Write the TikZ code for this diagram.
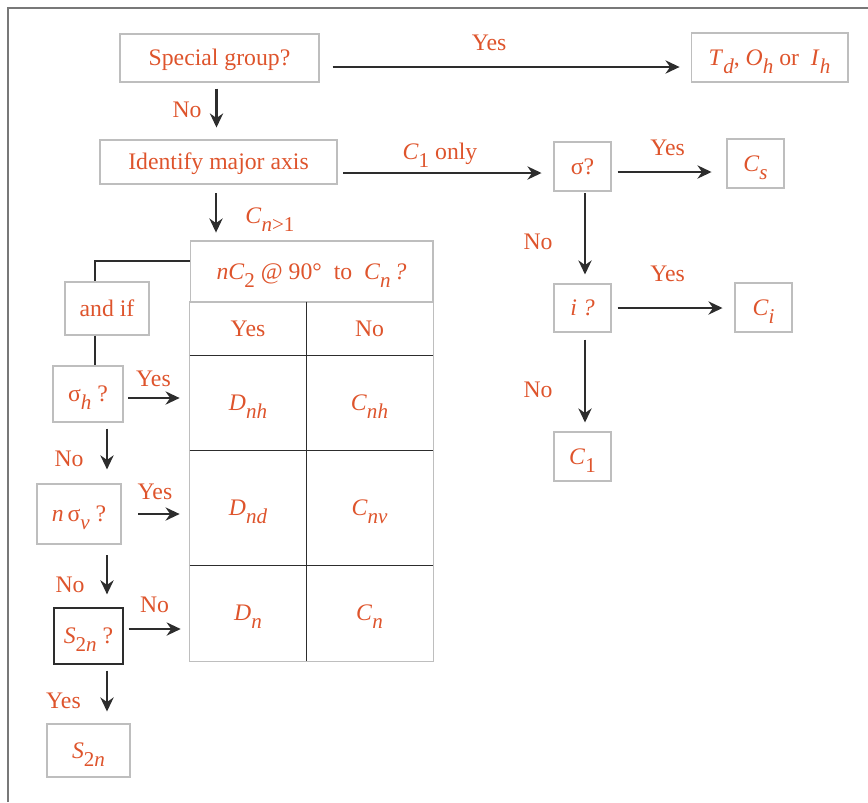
\documentclass[tikz,border=0pt]{standalone}
\usepackage{fontspec}
\setmainfont{Liberation Serif}
\usetikzlibrary{arrows.meta, positioning, calc}
\definecolor{lblred}{RGB}{222, 84, 44}
\definecolor{boxgray}{RGB}{190, 190, 190}
\definecolor{arrgray}{RGB}{45, 45, 45}
\definecolor{framegray}{RGB}{120, 120, 120}
\newcommand{\sub}[1]{\raisebox{-4.5pt}{\fontsize{12}{12}\selectfont #1}}
\newcommand{\grp}[2]{\textit{#1}\sub{\textit{#2}}}

\begin{document}
\begin{tikzpicture}[x=0.02cm, y=-0.02cm,
  txt/.style={text=lblred, font=\fontsize{13.5}{16}\selectfont, inner sep=0pt, text height=8.9pt, text depth=0pt},
  box/.style={txt, draw=boxgray, line width=0.6pt},
  cell/.style={txt, minimum width=#1},
  arr/.style={draw=arrgray, line width=1.6pt, -{Stealth[length=8pt, width=7.5pt]}, shorten <=3.4pt, shorten >=6.8pt},
  link/.style={draw=arrgray, line width=0.7pt}]
  \useasboundingbox (0,0) rectangle (868,802);

  % Frame
  \draw[framegray, line width=0.8pt] (8,802) -- (8,8) -- (868,8);

  % Top row
  \node[box, minimum width=3.98cm, minimum height=0.96cm] (sg) at (219.5,58) {Special group?};
  \node[box, minimum width=3.14cm, minimum height=0.98cm] (spec) at (769.5,57.5) {\grp{T}{d}, \grp{O}{h} or\ \ \grp{I}{h}};
  \node[box, minimum width=4.74cm, minimum height=0.88cm] (axis) at (218.5,162) {Identify major axis};

  % C1 only branch
  \node[box, minimum width=1.14cm, minimum height=0.98cm] (sig) at (582.5,166.5) {σ?};
  \node[box, minimum width=1.14cm, minimum height=0.98cm] (cs) at (755.5,163.5) {\grp{C}{s}};
  \node[box, minimum width=1.14cm, minimum height=0.96cm] (inv) at (582.5,308) {\textit{i ?}};
  \node[box, minimum width=1.14cm, minimum height=0.98cm] (ci) at (763.5,307.5) {\grp{C}{i}};
  \node[box, minimum width=1.14cm, minimum height=0.98cm] (cone) at (582.5,456.5) {\textit{C}\sub{1}};

  % Table
  \node[box, minimum width=4.86cm, minimum height=1.22cm] (ask) at (311.5,271.5) {\textit{n}\textit{C}\sub{2} @ 90°\ \ to\ \ \grp{C}{n}\,\textit{?}};
  \node[cell=2.32cm, minimum height=1.06cm] (hy) at (248,328.5) {Yes};
  \node[cell=2.54cm, minimum height=1.06cm] (hn) at (369.5,328.5) {No};
  \node[cell=2.32cm, minimum height=1.9cm] (dnh) at (248,402.5) {\grp{D}{nh}};
  \node[cell=2.54cm, minimum height=1.9cm] (cnh) at (369.5,402.5) {\grp{C}{nh}};
  \node[cell=2.32cm, minimum height=2.3cm] (dnd) at (248,507.5) {\grp{D}{nd}};
  \node[cell=2.54cm, minimum height=2.3cm] (cnv) at (369.5,507.5) {\grp{C}{nv}};
  \node[cell=2.32cm, minimum height=1.92cm] (dn) at (248,613) {\grp{D}{n}};
  \node[cell=2.54cm, minimum height=1.92cm] (cn) at (369.5,613) {\grp{C}{n}};
  \draw[boxgray, line width=0.6pt] (hy.north west) rectangle (cn.south east);
  \draw[arrgray, line width=0.9pt] (hy.north east) -- (dn.south east);
  \draw[arrgray, line width=0.9pt] (hy.south west) -- (hn.south east)
    (dnh.south west) -- (cnh.south east) (dnd.south west) -- (cnv.south east);

  % Left column
  \node[box, minimum width=1.68cm, minimum height=1.06cm] (andif) at (107,308.5) {and if};
  \node[box, minimum width=1.4cm, minimum height=1.12cm] (sh) at (88,394) {σ\sub{\textit{h}}\ ?};
  \node[box, minimum width=1.68cm, minimum height=1.2cm] (nsv) at (79,514) {\textit{n}\,σ\sub{\textit{v}}\ ?};
  \node[txt, draw=arrgray, line width=0.7pt, minimum width=1.38cm, minimum height=1.12cm] (stq) at (88.5,636) {\textit{S}\sub{2\textit{n}}\ ?};
  \node[box, minimum width=1.66cm, minimum height=1.06cm] (stn) at (88.5,750.5) {\textit{S}\sub{2\textit{n}}};
  \coordinate (lx) at (107,0);
  \coordinate (ly) at (95,0);
  \draw[link] ([yshift=0.21cm]ask.west) -| (andif.north -| ly);
  \draw[link] (andif.south -| ly) -- (sh.north -| ly);

  % Arrows
  \draw[arr, shorten <=7.4pt, shorten >=6.2pt] ($(sg.east)+(0,9)$) -- ($(sg.east -| spec.west)+(0,9)$);
  \draw[arr] ($(sg.south)+(-3,0)$) -- ($(sg.south |- axis.north)+(-3,0)$);
  \draw[arr] ($(axis.east)+(0,11)$) -- ($(axis.east -| sig.west)+(0,11)$);
  \draw[arr, shorten >=8.5pt] ($(sig.east)+(0,5.5)$) -- ($(sig.east -| cs.west)+(0,5.5)$);
  \draw[arr, shorten <=1.1pt, shorten >=5.1pt] ($(sig.south)+(2.5,0)$) -- ($(inv.north)+(2.5,0)$);
  \draw[arr] (inv.east) -- (inv.east -| ci.west);
  \draw[arr, shorten <=4pt, shorten >=5.1pt] ($(inv.south)+(2.5,0)$) -- ($(cone.north)+(2.5,0)$);
  \draw[arr, shorten <=5.1pt, shorten >=4.5pt] ($(axis.south)+(-2.5,0)$) -- ($(axis.south |- ask.north)+(-2.5,0)$);
  \draw[arr, shorten <=2.8pt, shorten >=5.7pt] ($(sh.east)+(0,4)$) -- ($(sh.east -| dnh.west)+(0,4)$);
  \draw[arr, shorten >=8pt] (sh.south -| lx) -- (nsv.north -| lx);
  \draw[arr, shorten <=9.6pt, shorten >=5.7pt] (nsv.east) -- (nsv.east -| dnd.west);
  \draw[arr, shorten <=6.2pt, shorten >=7.4pt] (nsv.south -| lx) -- (stq.north -| lx);
  \draw[arr, shorten <=2.8pt, shorten >=5.1pt] ($(stq.east)+(0,-7)$) -- ($(stq.east -| dn.west)+(0,-7)$);
  \draw[arr] (stq.south -| lx) -- (stn.north -| lx);

  % Labels
  \node[txt] (yes1) at (489,43) {Yes};
  \node[txt] (no1) at (187,110) {No};
  \node[txt] (only) at (440,152) {\textit{C}\sub{1} only};
  \node[txt] (yes2) at (667.5,148) {Yes};
  \node[txt] (no2) at (538,241.5) {No};
  \node[txt] (yes3) at (667.5,273.5) {Yes};
  \node[txt] (no3) at (538,389.5) {No};
  \node[txt] (cgt) at (270,216) {\textit{C}\sub{\textit{n}>1}};
  \node[txt] (yes4) at (153.5,378.5) {Yes};
  \node[txt] (no4) at (69,459) {No};
  \node[txt] (yes5) at (155,492) {Yes};
  \node[txt] (no5) at (70,584.5) {No};
  \node[txt] (no6) at (154.5,605) {No};
  \node[txt] (yes6) at (63.5,700.5) {Yes};
\end{tikzpicture}
\end{document}
